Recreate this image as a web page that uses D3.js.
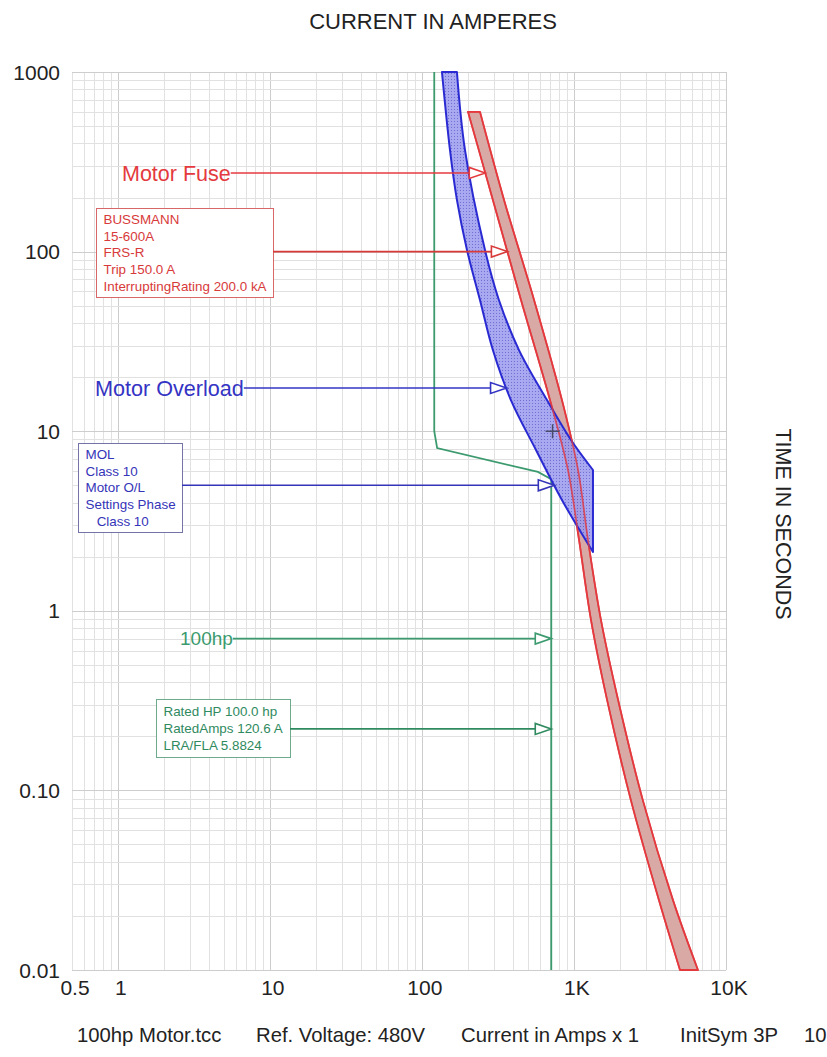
<!DOCTYPE html>
<html>
<head>
<meta charset="utf-8">
<script src="https://cdn.jsdelivr.net/npm/d3@7"></script>
<style>
  html, body { margin: 0; padding: 0; background: #fff; overflow: hidden; }
  svg { display: block; }
  text { font-family: "Liberation Sans", Arial, Helvetica, sans-serif; }
</style>
</head>
<body>
<svg id="chart" width="827" height="1057"></svg>
<script>
// ---- axis ticks ----
const xTickValues = [0.5, 1, 10, 100, 1000, 10000];
const xTickLabels = ["0.5", "1", "10", "100", "1K", "10K"];
const yTickValues = [1000, 100, 10, 1, 0.1, 0.01];
const yTickLabels = ["1000", "100", "10", "1", "0.10", "0.01"];

// ---- BUSSMANN FRS-R fuse: [amps, seconds] ----
const fuseMinMelt = [
  [201, 600], [293, 194], [448, 54], [696, 14.9], [913, 6.1], [1080, 2.48],
  [1294, 0.89], [1650, 0.32], [2370, 0.088], [3620, 0.0245], [4980, 0.01]
];
const fuseTotalClear = [
  [241, 600], [347, 194], [546, 54], [834, 14.9], [1063, 6.1], [1237, 2.48],
  [1505, 0.89], [1950, 0.32], [2840, 0.088], [4480, 0.0245], [6540, 0.01]
];

// ---- Class 10 motor overload band: [amps, seconds] ----
const overloadMin = [
  [135.5, 1000], [153, 368], [170, 194], [198, 102], [241, 53.8], [293, 28.3],
  [385, 14.9], [563, 7.86], [834, 4.14], [1334, 2.125]
];
const overloadMax = [
  [170, 1000], [192, 368], [260, 102], [321, 53.8], [435, 28.3], [665, 14.9],
  [956, 8.93], [1334, 6.08]
];
const overloadClassPoint = [6 * 120.6, 10];

// ---- 100 hp motor starting curve ----
const ratedAmps = 120.6;
const lraPerFla = 5.8824;
const lockedRotorAmps = ratedAmps * lraPerFla;
const motorStart = [
  [ratedAmps, 1000], [ratedAmps, 10], [126, 8.05], [580, 5.93],
  [lockedRotorAmps, 5.4], [lockedRotorAmps, 0.01]
];

// ---- annotation texts and arrow times ----
const fuseBoxLines = ["BUSSMANN", "15-600A", "FRS-R", "Trip 150.0 A", "InterruptingRating 200.0 kA"];
const overloadBoxLines = ["MOL", "Class 10", "Motor O/L", "Settings Phase", "   Class 10"];
const motorBoxLines = ["Rated HP 100.0 hp", "RatedAmps 120.6 A", "LRA/FLA 5.8824"];
const arrowTimes = { fuseName: 274, fuseBox: 100, olName: 17.4, olBox: 5, motorName: 0.7, motorBox: 0.22 };
const footerParts = ["100hp Motor.tcc", "Ref. Voltage: 480V", "Current in Amps x 1", "InitSym 3P", "10"];

const RED = "#e43a3e", BLUE = "#2a2ad2", GREEN = "#3b9a6e";

const svg = d3.select("#chart");
const x = d3.scaleLog().domain([0.5, 10000]).range([72, 726]);
const y = d3.scaleLog().domain([1000, 0.01]).range([72, 970]);

// ---- grid ----
const vLines = [], hLines = [];
for (let d = -1; d <= 3; d++) for (let m = 1; m <= 9; m++) {
  const v = m * Math.pow(10, d);
  if (v >= 0.5 && v <= 10000) vLines.push({ v, major: m === 1 });
}
vLines.push({ v: 10000, major: true });
for (let d = -2; d <= 2; d++) for (let m = 1; m <= 9; m++) hLines.push({ v: m * Math.pow(10, d), major: m === 1 });
hLines.push({ v: 1000, major: true });

const grid = svg.append("g").attr("shape-rendering", "crispEdges");
grid.selectAll("line.v").data(vLines).join("line")
  .attr("x1", d => Math.round(x(d.v)) + 0.5).attr("x2", d => Math.round(x(d.v)) + 0.5)
  .attr("y1", y(1000)).attr("y2", y(0.01))
  .attr("stroke", d => d.major ? "#cdcdcd" : "#e1e1e1").attr("stroke-width", 1);
grid.selectAll("line.h").data(hLines).join("line")
  .attr("y1", d => Math.round(y(d.v)) + 0.5).attr("y2", d => Math.round(y(d.v)) + 0.5)
  .attr("x1", x(0.5)).attr("x2", x(10000))
  .attr("stroke", d => d.major ? "#cdcdcd" : "#e1e1e1").attr("stroke-width", 1);

// ---- tick labels ----
svg.append("g").selectAll("text").data(xTickValues).join("text")
  .attr("x", d => x(d) + 3).attr("y", 995)
  .attr("text-anchor", "middle").attr("font-size", 21).attr("fill", "#222")
  .text((d, i) => xTickLabels[i]);
svg.append("g").selectAll("text").data(yTickValues).join("text")
  .attr("x", 60).attr("y", d => y(d)).attr("dy", "0.36em")
  .attr("text-anchor", "end").attr("font-size", 21).attr("fill", "#222")
  .text((d, i) => yTickLabels[i]);

svg.append("text").attr("x", 433).attr("y", 29).attr("text-anchor", "middle")
  .attr("font-size", 22).attr("fill", "#222").text("CURRENT IN AMPERES");
svg.append("text").attr("transform", "translate(776,524) rotate(90)")
  .attr("text-anchor", "middle").attr("font-size", 21.5).attr("fill", "#222").text("TIME IN SECONDS");

// ---- footer ----
const footerX = [77, 256, 461, 680, 804];
svg.append("g").selectAll("text").data(footerParts).join("text")
  .attr("x", (d, i) => footerX[i]).attr("y", 1042)
  .attr("font-size", 20.3).attr("fill", "#222").text(d => d);

// ---- curves ----
svg.append("clipPath").attr("id", "plotClip").append("rect")
  .attr("x", x(0.5)).attr("y", y(1000) - 1).attr("width", x(10000) - x(0.5)).attr("height", y(0.01) - y(1000) + 2);

const defs = svg.append("defs");
const pat = defs.append("pattern").attr("id", "olFill").attr("patternUnits", "userSpaceOnUse")
  .attr("width", 3).attr("height", 3);
pat.append("rect").attr("width", 3).attr("height", 3).attr("fill", "#9a9aee");
pat.append("rect").attr("x", 1).attr("y", 1).attr("width", 1).attr("height", 1).attr("fill", "#5656cc");

const smooth = d3.line().x(d => x(d[0])).y(d => y(d[1])).curve(d3.curveCatmullRom.alpha(0.5));
function bandPath(a, b) {
  const left = smooth(a);
  const right = smooth(b.slice().reverse());
  return left + "L" + right.slice(1) + "Z";
}

const curves = svg.append("g").attr("clip-path", "url(#plotClip)");

// motor starting curve
curves.append("path").attr("d", d3.line().x(d => x(d[0])).y(d => y(d[1]))(motorStart))
  .attr("fill", "none").attr("stroke", GREEN).attr("stroke-width", 1.8);

// fuse band
const fusePath = bandPath(fuseMinMelt, fuseTotalClear);
curves.append("path").attr("d", fusePath)
  .attr("fill", "#d9aaa5").attr("stroke", RED).attr("stroke-width", 1.8).attr("stroke-linejoin", "round");

// overload band
curves.append("path").attr("d", bandPath(overloadMin, overloadMax))
  .attr("fill", "url(#olFill)").attr("fill-opacity", 0.85)
  .attr("stroke", BLUE).attr("stroke-width", 2).attr("stroke-linejoin", "round");

// fuse outline stays visible where the bands overlap
curves.append("path").attr("d", fusePath)
  .attr("fill", "none").attr("stroke", RED).attr("stroke-opacity", 0.8).attr("stroke-width", 1.6);

// class 10 trip point marker
const cx = x(overloadClassPoint[0]), cy = y(overloadClassPoint[1]);
curves.append("path").attr("d", `M${cx - 7},${cy}H${cx + 7}M${cx},${cy - 7}V${cy + 7}`)
  .attr("stroke", "#4a4a6a").attr("stroke-width", 1.5);

// ---- arrows ----
// x where a curve (interpolated in log space) reaches time t
function curveXAt(curve, t) {
  for (let i = 0; i < curve.length - 1; i++) {
    const [a0, t0] = curve[i], [a1, t1] = curve[i + 1];
    if ((t <= t0 && t >= t1) || (t >= t0 && t <= t1)) {
      if (t0 === t1) return x(a0);
      const f = (Math.log(t) - Math.log(t0)) / (Math.log(t1) - Math.log(t0));
      return x(Math.exp(Math.log(a0) + f * (Math.log(a1) - Math.log(a0))));
    }
  }
  return x(curve[curve.length - 1][0]);
}

const ann = svg.append("g");
function arrow(x0, t, tipX, color) {
  const yy = y(t), len = 16, hw = 5.5;
  ann.append("line").attr("x1", x0).attr("x2", tipX - len).attr("y1", yy).attr("y2", yy)
    .attr("stroke", color).attr("stroke-width", 1.6);
  ann.append("path").attr("d", `M${tipX},${yy}L${tipX - len},${yy - hw}L${tipX - len},${yy + hw}Z`)
    .attr("fill", "#fff").attr("stroke", color).attr("stroke-width", 1.6).attr("stroke-linejoin", "miter");
}

function nameLabel(text, x0, t, color, tipX, size) {
  const el = ann.append("text").attr("x", x0).attr("y", y(t)).attr("dy", "0.36em")
    .attr("font-size", size).attr("fill", color).text(text);
  const w = el.node().getComputedTextLength();
  arrow(x0 + w, t, tipX, color);
}

function infoBox(lines, bx, by, bw, bh, t, tipX, color, border) {
  const g = ann.append("g");
  g.append("rect").attr("x", bx + 0.5).attr("y", by + 0.5).attr("width", bw).attr("height", bh)
    .attr("fill", "#fff").attr("stroke", border).attr("stroke-width", 1);
  const lh = bh / (lines.length + 0.35);
  g.selectAll("text").data(lines).join("text")
    .attr("x", bx + 7.5).attr("y", (d, i) => by + lh * (i + 0.68)).attr("dy", "0.36em")
    .attr("font-size", 13.4).attr("fill", color)
    .style("white-space", "pre").text(d => d);
  arrow(bx + bw, t, tipX, color);
}

nameLabel("Motor Fuse", 122, arrowTimes.fuseName, RED, curveXAt(fuseMinMelt, arrowTimes.fuseName), 21.5);
infoBox(fuseBoxLines, 96, 208, 177, 89, arrowTimes.fuseBox, curveXAt(fuseMinMelt, arrowTimes.fuseBox), "#d83a3a", "#d86868");

nameLabel("Motor Overload", 95, arrowTimes.olName, "#3434c4", curveXAt(overloadMin, arrowTimes.olName), 21.6);
infoBox(overloadBoxLines, 78, 443, 104, 89, arrowTimes.olBox, curveXAt(overloadMin, arrowTimes.olBox), "#3434b8", "#7474a8");

nameLabel("100hp", 180, arrowTimes.motorName, GREEN, x(lockedRotorAmps), 19);
infoBox(motorBoxLines, 156, 699, 134, 58, arrowTimes.motorBox, x(lockedRotorAmps), "#2f8a60", "#6eaa8c");
</script>
</body>
</html>
